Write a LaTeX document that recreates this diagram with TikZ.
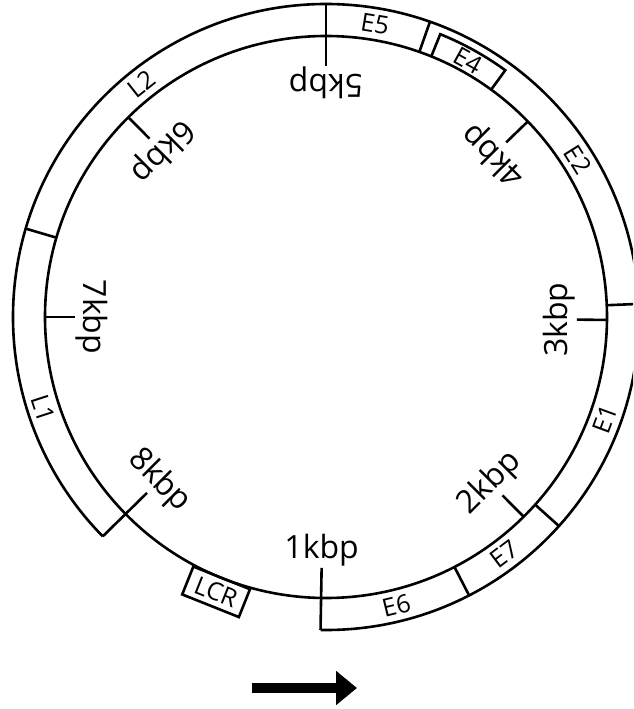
\documentclass[tikz,border=0pt]{standalone}
\usepackage{fontspec}
\setmainfont{Open Sans}
\usepackage{tikz}
\usetikzlibrary{arrows.meta}

\begin{document}
\begin{tikzpicture}[x=1pt,y=1pt, ring/.style={line width=2.6pt},
  kblabel/.style={font=\fontsize{32}{32}\selectfont,anchor=south,inner sep=0pt},
  gene/.style={font=\fontsize{25}{25}\selectfont,inner sep=0pt},
  genebox/.style={draw,line width=2.6pt,minimum width=61pt,minimum height=30pt,inner sep=0pt,font=\fontsize{25}{25}\selectfont}]
\useasboundingbox (-326,-392) rectangle (307,317);
\clip (-326,-392) rectangle (307,317);
\draw[ring] (0,0) circle[radius=281pt];
\draw[ring] (-91:313pt) arc[start angle=-91,end angle=224.5,radius=313pt];
\foreach \a in {-91,-62.8,-41.9,2.4,70.6,90,163.6,224.5}
  \draw[ring] (\a:281pt) -- (\a:313pt);
\draw[ring] (54:281pt) -- (54:305pt) arc[start angle=54,end angle=68,radius=305pt] -- (68:281pt);
\foreach \a/\t/\r [count=\i from 1] in {-91/1kbp/0,-45.3/2kbp/45,-0.6/3kbp/90,44.1/4kbp/135,90/5kbp/180,134.7/6kbp/225,180/7kbp/270,224.5/8kbp/315}
  \draw[ring] (\a:281pt) -- (\a:251pt) node[kblabel,rotate=\r] (k\i) {\t};
\foreach \g/\a/\r [count=\i] in {E6/-76.3/13.7,E7/-53/37,E1/-20.2/69.8,E2/32/-58,E5/80.5/-9.5,L2/128.4/38.4,L1/198/-72}
  \node[gene,rotate=\r] (g\i) at (\a:297pt) {\g};
\node[gene,rotate=-29] (e4) at (61:293pt) {E4};
\node[genebox,rotate=-21.8] (lcr) at (248.2:296pt) {LCR};
\coordinate (arrowtail) at (-74,-371);
\coordinate (arrowtip) at (31,-371);
\draw[line width=10pt,-{Triangle[length=21pt,width=33pt]}] (arrowtail) -- (arrowtip);
\end{tikzpicture}
\end{document}
